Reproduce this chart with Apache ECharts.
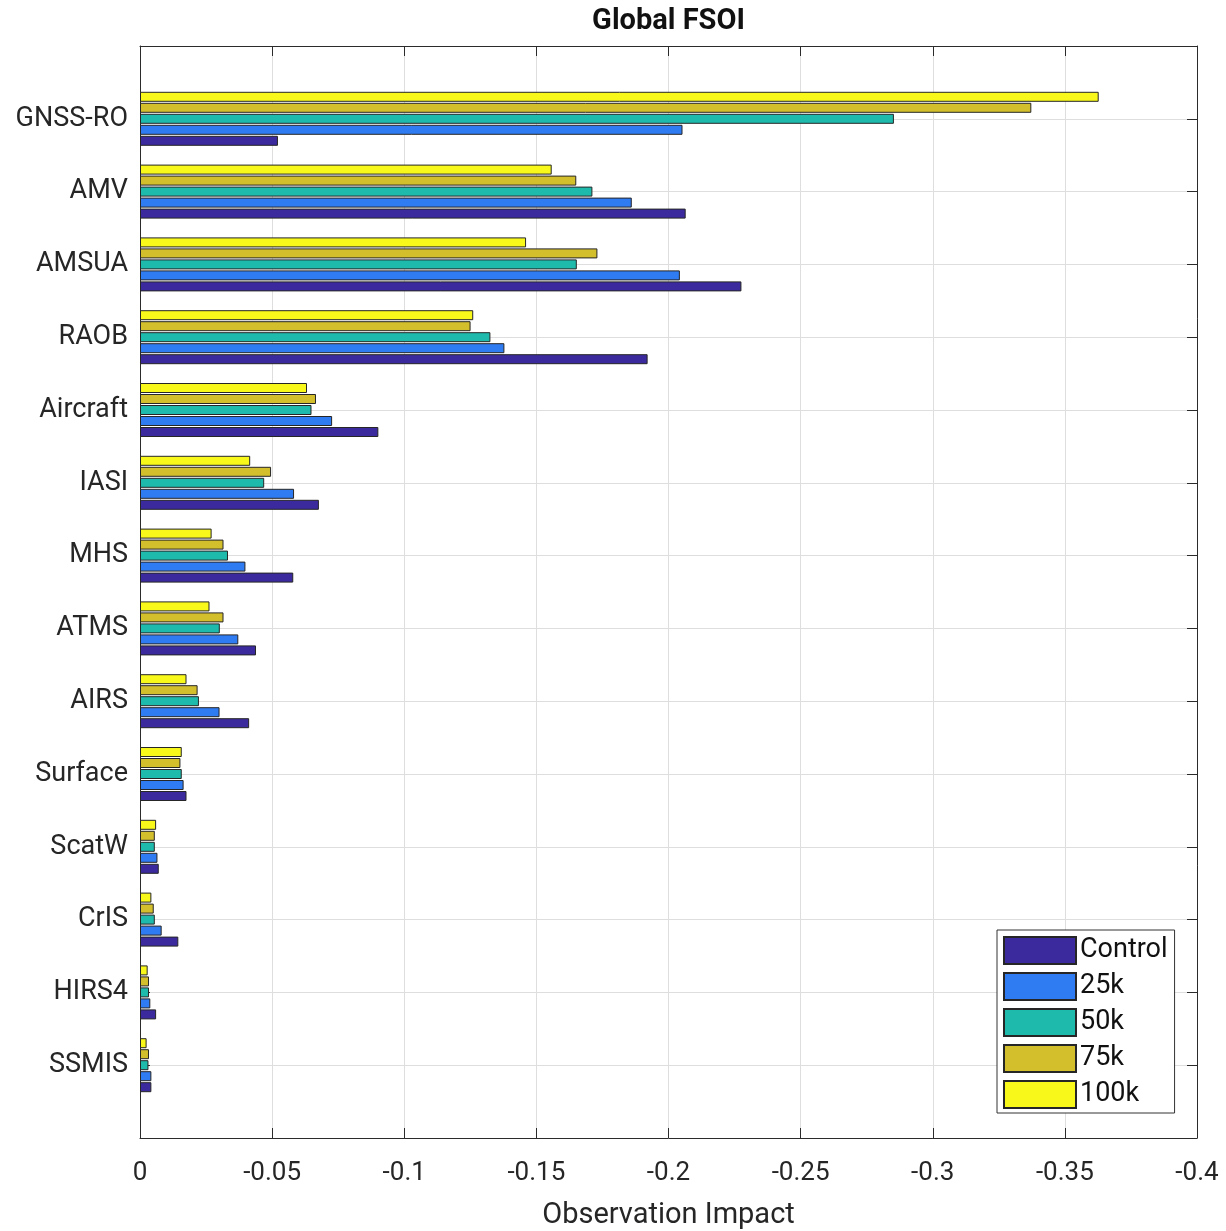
<!DOCTYPE html>
<html>
<head>
<meta charset="utf-8">
<title>Global FSOI</title>
<script src="https://cdn.jsdelivr.net/npm/echarts@6/dist/echarts.min.js"></script>
<style>
  html, body { margin: 0; padding: 0; background: #ffffff; }
  #chart { width: 1226px; height: 1231px; }
</style>
</head>
<body>
<div id="chart"></div>
<script>
// Observation types, listed top to bottom
const categories = ['GNSS-RO', 'AMV', 'AMSUA', 'RAOB', 'Aircraft', 'IASI', 'MHS',
                    'ATMS', 'AIRS', 'Surface', 'ScatW', 'CrIS', 'HIRS4', 'SSMIS'];

// Observation impact per experiment
const control = [-0.0522, -0.2065, -0.2276, -0.1921, -0.0902, -0.0677, -0.0580,
                 -0.0439, -0.0413, -0.0176, -0.0071, -0.0145, -0.0061, -0.0043];
const k25     = [-0.2053, -0.1861, -0.2043, -0.1379, -0.0727, -0.0583, -0.0399,
                 -0.0372, -0.0301, -0.0165, -0.0066, -0.0082, -0.0039, -0.0043];
const k50     = [-0.2853, -0.1712, -0.1653, -0.1326, -0.0649, -0.0470, -0.0333,
                 -0.0302, -0.0223, -0.0158, -0.0056, -0.0056, -0.0034, -0.0032];
const k75     = [-0.3373, -0.1651, -0.1731, -0.1251, -0.0666, -0.0496, -0.0316,
                 -0.0316, -0.0218, -0.0153, -0.0056, -0.0052, -0.0034, -0.0034];
const k100    = [-0.3628, -0.1558, -0.1461, -0.1261, -0.0632, -0.0417, -0.0271,
                 -0.0263, -0.0176, -0.0158, -0.0061, -0.0043, -0.0029, -0.0025];

// X axis tick settings
const xMin = -0.4, xMax = 0, xStep = 0.05;

const experiments = [
  { name: 'Control', data: control, color: '#3a2a9e' },
  { name: '25k',     data: k25,     color: '#2f7bf2' },
  { name: '50k',     data: k50,     color: '#1ebbad' },
  { name: '75k',     data: k75,     color: '#d3be2c' },
  { name: '100k',    data: k100,    color: '#f8f81b' }
];

// One empty slot above and below the categories gives the axis its margin
const paddedCats = [''].concat(categories, ['']);
const pad = arr => [null].concat(arr, [null]);

const FONT = 'Roboto, "Noto Sans", sans-serif';
const AXIS_COLOR = '#2b2b2b';
const GRID_COLOR = '#dedede';
const TEXT_COLOR = '#262626';

// Drawn top-down within each group: 100k on top, Control at the bottom
const drawOrder = experiments.slice().reverse();

const chart = echarts.init(document.getElementById('chart'), null, { renderer: 'canvas' });

chart.setOption({
  animation: false,
  backgroundColor: '#ffffff',
  grid: { left: 140, right: 29, top: 46, bottom: 93, containLabel: false, outerBoundsMode: 'none' },
  graphic: [{
    type: 'text',
    x: 668.5, y: 22,
    style: {
      text: 'Global FSOI',
      font: 'bold 29px ' + FONT,
      fill: '#111111',
      align: 'center',
      verticalAlign: 'middle'
    }
  }],
  legend: {
    data: experiments.map(e => e.name),
    orient: 'vertical',
    left: 997, top: 930,
    itemWidth: 72, itemHeight: 27, itemGap: 7,
    padding: [6, 7, 4, 6],
    backgroundColor: '#ffffff',
    borderColor: '#333333', borderWidth: 1, borderRadius: 0,
    icon: 'rect',
    selectedMode: false,
    textStyle: { fontFamily: FONT, fontSize: 27, color: '#111111', padding: [0, 0, 0, -1] }
  },
  xAxis: [{
    type: 'value', position: 'bottom',
    min: xMin, max: xMax, interval: xStep, inverse: true,
    name: 'Observation Impact', nameLocation: 'middle', nameGap: 63,
    nameTextStyle: { fontFamily: FONT, fontSize: 29, color: TEXT_COLOR },
    axisLine: { show: true, onZero: false, lineStyle: { color: AXIS_COLOR, width: 1 } },
    axisTick: { show: true, inside: true, length: 10, lineStyle: { color: AXIS_COLOR } },
    axisLabel: { fontFamily: FONT, fontSize: 26, color: TEXT_COLOR, margin: 22 },
    splitLine: { show: true, lineStyle: { color: GRID_COLOR, width: 1 } }
  }, {
    type: 'value', position: 'top',
    min: xMin, max: xMax, interval: xStep, inverse: true,
    axisLine: { show: true, onZero: false, lineStyle: { color: AXIS_COLOR, width: 1 } },
    axisTick: { show: true, inside: true, length: 10, lineStyle: { color: AXIS_COLOR } },
    axisLabel: { show: false },
    splitLine: { show: false }
  }],
  yAxis: [{
    type: 'category', position: 'left', inverse: true,
    data: paddedCats, boundaryGap: false,
    axisLine: { show: true, onZero: false, lineStyle: { color: AXIS_COLOR, width: 1 } },
    axisTick: { show: true, inside: true, length: 10, lineStyle: { color: AXIS_COLOR } },
    axisLabel: { fontFamily: FONT, fontSize: 27, color: TEXT_COLOR, margin: 12, interval: 0 },
    splitLine: { show: true, interval: 0, lineStyle: { color: GRID_COLOR, width: 1 } }
  }, {
    type: 'category', position: 'right', inverse: true,
    data: paddedCats, boundaryGap: false,
    axisLine: { show: true, onZero: false, lineStyle: { color: AXIS_COLOR, width: 1 } },
    axisTick: { show: true, inside: true, length: 10, lineStyle: { color: AXIS_COLOR } },
    axisLabel: { show: false },
    splitLine: { show: false }
  }],
  series: drawOrder.map(e => ({
    name: e.name,
    type: 'bar',
    xAxisIndex: 0, yAxisIndex: 0,
    data: pad(e.data),
    barWidth: 10,
    barGap: '10%',
    itemStyle: { color: e.color, borderColor: '#262626', borderWidth: 1 },
    emphasis: { disabled: true }
  }))
});
</script>
</body>
</html>
